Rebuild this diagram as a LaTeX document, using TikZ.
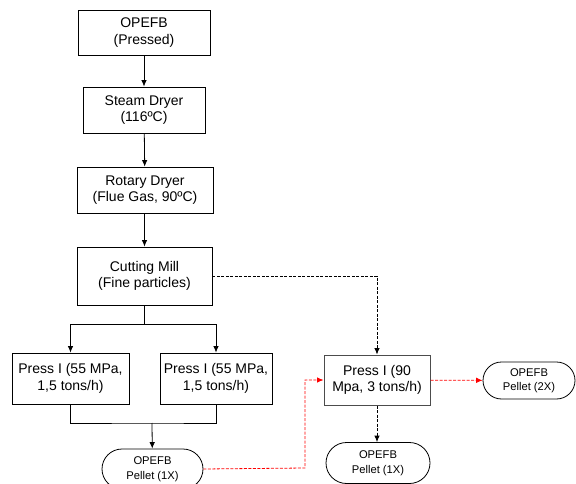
\documentclass[tikz,border=0pt]{standalone}
\usepackage{fontspec}
\setmainfont{Liberation Sans}
\usetikzlibrary{arrows.meta,shapes.misc}

\begin{document}
\begin{tikzpicture}[x=1pt,y=-1pt,
  box/.style={draw,line width=0.8pt,inner sep=0pt,align=center,font=\fontsize{14}{16.5}\selectfont},
  pill/.style={draw,line width=0.8pt,rounded rectangle,inner sep=0pt,align=center,font=\fontsize{11.2}{14.5}\selectfont},
  arr/.style={line width=0.8pt,-{Latex[length=6.5pt,width=5.5pt]}},
  blkflow/.style={arr,dash pattern=on 3pt off 1.5pt},
  redflow/.style={arr,color=red,dash pattern=on 3pt off 1.5pt}]
\useasboundingbox (0,0) rectangle (576,484);
\clip (0,0) rectangle (576,484);

\node[box,minimum width=132pt,minimum height=45pt] (bunch) at (144,32.5) {OPEFB\\(Pressed)};
\node[box,minimum width=122pt,minimum height=46pt] (steam) at (144,110) {Steam Dryer\\(116ºC)};
\node[box,minimum width=136pt,minimum height=46pt] (rotary) at (145,190) {Rotary Dryer\\(Flue Gas, 90ºC)};
\node[box,minimum width=135pt,minimum height=58pt] (mill) at (144.5,276) {Cutting Mill\\(Fine particles)};
\node[box,minimum width=117pt,minimum height=51pt] (pressa) at (70.5,378.5) {Press I (55 MPa,\\1,5 tons/h)};
\node[box,minimum width=112pt,minimum height=51pt] (pressb) at (216,378.5) {Press I (55 MPa,\\1,5 tons/h)};
\node[pill,minimum width=101pt,minimum height=40pt] (pellet) at (152.5,469) {OPEFB\\Pellet (1X)};
\node[box,draw=black!70,line width=1pt,minimum width=106pt,minimum height=50pt] (pressc) at (377,380) {Press I (90\\Mpa, 3 tons/h)};
\node[pill,minimum width=92pt,minimum height=37pt] (double) at (529,380.5) {OPEFB\\Pellet (2X)};
\node[pill,minimum width=104pt,minimum height=41pt] (single) at (378,463) {OPEFB\\Pellet (1X)};

\coordinate (split) at (144,324);
\coordinate (join) at (152,423);
\coordinate (turn) at (305,468);

\draw[arr] (bunch) -- (steam);
\draw[arr] (steam) -- (rotary);
\draw[arr] (rotary.south -| mill.north) -- (mill);
\draw[line width=0.8pt] (mill.south -| split) -- (split);
\draw[arr] (split) -| (pressa);
\draw[arr] (split) -| (pressb);
\draw[line width=0.8pt] (pressa) |- (join) -| (pressb);
\draw[arr] (join) -- (pellet);
\draw[blkflow] (mill) -| (pressc);
\draw[blkflow] (pressc.south) -- (single.north -| pressc.south);
\draw[redflow] (pellet.east) -- (turn) |- (pressc.west);
\draw[redflow] (pressc) -- (double);
\end{tikzpicture}
\end{document}
